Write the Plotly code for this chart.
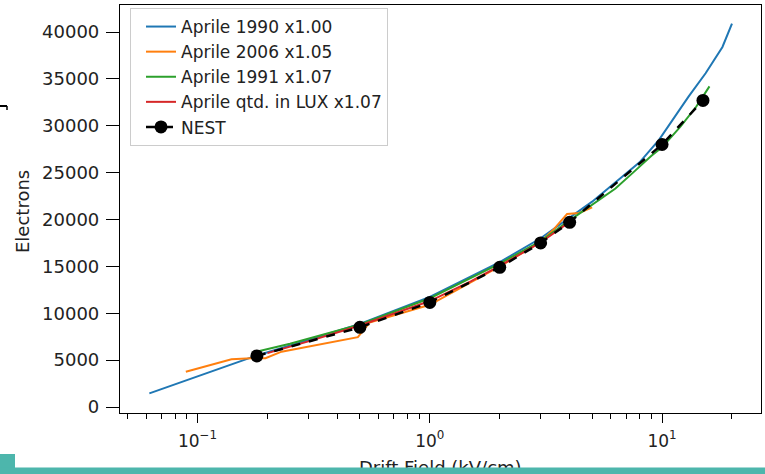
import plotly.graph_objects as go

# ---- data ----
blue_x = [0.062, 0.18, 0.3, 0.5, 1.0, 2.0, 3.0, 5.0, 8.0, 9.7, 13.0, 15.4, 18.2, 20.0]
blue_y = [1450, 5500, 7150, 8850, 11750, 15450, 18000, 21900, 26100, 28500, 33100, 35600, 38400, 40900]

orange_x = [0.089, 0.14, 0.17, 0.196, 0.23, 0.49, 0.55, 1.0, 2.0, 3.0, 3.4, 3.9, 4.4, 5.0]
orange_y = [3760, 5100, 5200, 5200, 5900, 7450, 9000, 10900, 15000, 17600, 18900, 20600, 20700, 21300]

green_x = [0.175, 0.25, 0.5, 1.0, 2.0, 3.0, 4.0, 5.0, 6.3, 7.5, 9.0, 10.0, 12.0, 14.0, 16.0]
green_y = [5850, 6750, 8800, 11600, 15300, 17700, 19900, 21600, 23300, 25000, 26800, 27700, 29900, 32000, 34200]

red_x = [0.2, 0.3, 0.5, 0.7, 1.0, 1.5, 2.0, 3.0, 4.0]
red_y = [5750, 7000, 8700, 9950, 11300, 13400, 15050, 17550, 19750]

nest_x = [0.18, 0.5, 1, 2, 3, 4, 10, 15]
nest_y = [5450, 8500, 11150, 14900, 17500, 19700, 28000, 32700]

names = ["Aprile 1990 x1.00", "Aprile 2006 x1.05", "Aprile 1991 x1.07",
         "Aprile qtd. in LUX x1.07", "NEST"]

x_tickvals = [0.1, 1, 10]
x_ticktext = ["10<sup>\u22121</sup>", "10<sup>0</sup>", "10<sup>1</sup>"]
x_minor = [0.05, 0.06, 0.07, 0.08, 0.09, 0.2, 0.3, 0.4, 0.5, 0.6, 0.7, 0.8, 0.9,
           2, 3, 4, 5, 6, 7, 8, 9, 20]
y_tickvals = [0, 5000, 10000, 15000, 20000, 25000, 30000, 35000, 40000]

FONT = "DejaVu Sans"
TXT = "#222222"
fig = go.Figure()
series = [(blue_x, blue_y, "#1f77b4"), (orange_x, orange_y, "#ff7f0e"),
          (green_x, green_y, "#2ca02c"), (red_x, red_y, "#d62728")]
for i, (xs, ys, c) in enumerate(series):
    fig.add_trace(go.Scatter(x=xs, y=ys, mode="lines", name=names[i],
                             line=dict(color=c, width=2)))
fig.add_trace(go.Scatter(x=nest_x, y=nest_y, mode="lines+markers", name=names[4],
                         line=dict(color="black", width=2.5, dash="dash"),
                         marker=dict(color="black", size=13)))

W, H = 765, 474
L, R, T, B = 120, 4, 5, 61
pw, ph = W - L - R, H - T - B
def px(x):
    return (x - L) / pw
def py(y):
    return (H - B - y) / ph

fig.update_layout(
    width=W, height=H,
    margin=dict(l=L, r=R, t=T, b=B),
    paper_bgcolor="white", plot_bgcolor="white",
    font=dict(family=FONT, size=17, color=TXT),
    showlegend=True,
    legend=dict(x=px(130), y=py(8), xanchor="left", yanchor="top",
                bgcolor="rgba(255,255,255,0.9)", bordercolor="#cccccc", borderwidth=1,
                indentation=10,
                font=dict(family=FONT, size=17, color=TXT)),
    xaxis=dict(type="log", range=[-1.334, 1.426],
               tickmode="array", tickvals=x_tickvals, ticktext=x_ticktext,
               ticks="outside", ticklen=9, tickwidth=1.2, tickcolor="black",
               showline=True, linecolor="black", linewidth=1.2, mirror=True,
               showgrid=False, zeroline=False, ticklabelstandoff=3,
               tickfont=dict(family=FONT, size=17, color=TXT),
               minor=dict(tickmode="array", tickvals=x_minor, ticks="outside",
                          ticklen=5, tickwidth=1, tickcolor="black", showgrid=False)),
    yaxis=dict(range=[-640, 42880], tickmode="array", tickvals=y_tickvals,
               tickformat="d",
               ticks="outside", ticklen=13, tickwidth=1.2, tickcolor="black",
               showline=True, linecolor="black", linewidth=1.2, mirror=True,
               showgrid=False, zeroline=False, ticklabelstandoff=3,
               tickfont=dict(family=FONT, size=18, color=TXT)),
    annotations=[
        dict(text="Electrons", xref="paper", yref="paper", x=px(22), y=py(212),
             xanchor="center", yanchor="middle", textangle=-90, showarrow=False,
             font=dict(family=FONT, size=18, color=TXT)),
        dict(text="Drift Field (kV/cm)", xref="paper", yref="paper", x=px(440), y=py(455),
             xanchor="center", yanchor="top", showarrow=False,
             font=dict(family=FONT, size=18, color=TXT)),
        dict(text="\u00a0", xref="paper", yref="paper", x=px(W / 2), y=py(471),
             xanchor="center", yanchor="middle", showarrow=False, width=W + 10, height=6,
             borderpad=0, bgcolor="#4db6ac", font=dict(size=2)),
    ],
    shapes=[
        dict(type="rect", xref="paper", yref="paper", x0=px(0), x1=px(15),
             y0=py(474), y1=py(454), fillcolor="#4db6ac", line=dict(width=0), layer="above"),
        dict(type="line", xref="paper", yref="paper", x0=px(0), x1=px(7),
             y0=py(106), y1=py(106), line=dict(color="black", width=2)),
        dict(type="line", xref="paper", yref="paper", x0=px(7), x1=px(7),
             y0=py(106), y1=py(110), line=dict(color="black", width=1.5)),
    ],
)

fig.write_html("out.html", config={"displayModeBar": False},
               post_script="document.body.style.margin='0';document.body.style.overflow='hidden';")
